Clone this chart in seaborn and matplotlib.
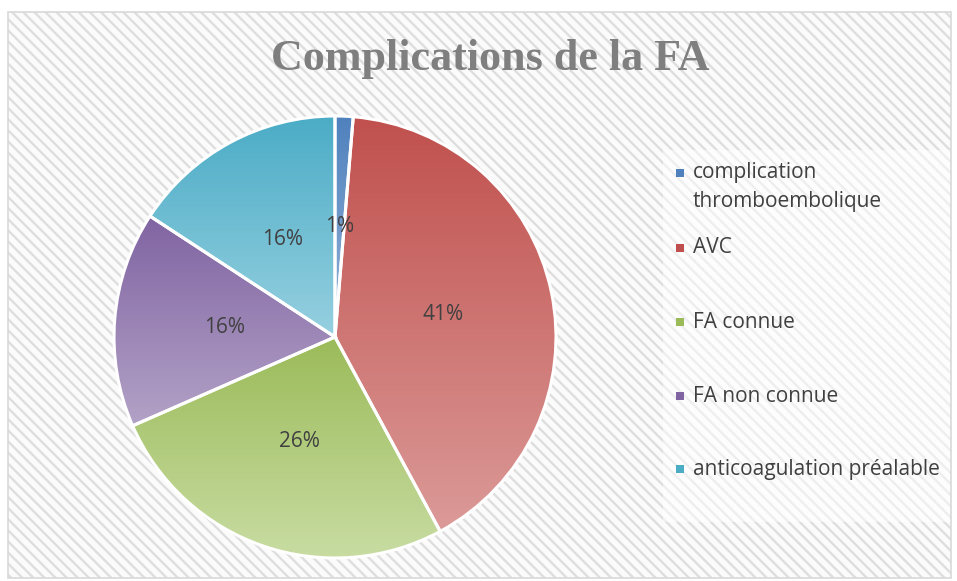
import numpy as np
import matplotlib
matplotlib.use("Agg")
import matplotlib.pyplot as plt
import seaborn as sns
from matplotlib.patches import Rectangle
from matplotlib.colors import to_rgb

# data (counts giving 1/41/26/16/16 %)
categories = ["complication\nthromboembolique", "AVC", "FA connue",
              "FA non connue", "anticoagulation préalable"]
counts = [1, 31, 20, 12, 12]

# gradient colours, top -> bottom of each slice
top_colors = ["#4F81BD", "#C0504D", "#9BBB59", "#8064A2", "#4BACC6"]
bottom_colors = ["#95B3D7", "#DB9A98", "#C8DCA2", "#B3A2C7", "#96D0E0"]

sns.set_theme(style="white")
plt.rcParams["font.family"] = ["Open Sans", "DejaVu Sans"]
plt.rcParams["hatch.linewidth"] = 1.7

W, H = 957, 581
fig = plt.figure(figsize=(W / 100, H / 100), dpi=100)
fig.patch.set_facecolor("white")

# hatched chart background + border
bg = Rectangle((8 / W, 1 - 578 / H), (951 - 8) / W, (578 - 12) / H,
               transform=fig.transFigure, facecolor="#fbfbfb",
               edgecolor="#dedede", hatch="\\\\\\", linewidth=0, zorder=-3)
fig.patches.append(bg)
border = Rectangle((8 / W, 1 - 578 / H), (951 - 8) / W, (578 - 12) / H,
                   transform=fig.transFigure, facecolor="none",
                   edgecolor="#d9d9d9", linewidth=1.2, zorder=-2)
fig.patches.append(border)
# lighter legend panel
panel = Rectangle((663 / W, 1 - 522 / H), (950 - 663) / W, (522 - 150) / H,
                  transform=fig.transFigure, facecolor="white",
                  edgecolor="none", alpha=0.5, zorder=-1)
fig.patches.append(panel)

# pie axes: centre (335, 337) px, radius 221 px
cx, cy, r = 335, 337, 221
ax = fig.add_axes([(cx - r) / W, (H - cy - r) / H, 2 * r / W, 2 * r / H])
ax.set_zorder(2)
ax.patch.set_alpha(0)

wedges, texts, autotexts = ax.pie(
    counts, startangle=90, counterclock=False, radius=1,
    autopct="%1.0f%%", pctdistance=0.5,
    textprops=dict(fontsize=15, color="#404040"),
    wedgeprops=dict(edgecolor="white", linewidth=2.2))

for w, c0, c1 in zip(wedges, top_colors, bottom_colors):
    ext = w.get_path().get_extents()
    a, b = np.array(to_rgb(c0)), np.array(to_rgb(c1))
    t = np.linspace(0, 1, 256)[:, None, None]
    grad = a[None, None, :] * (1 - t) + b[None, None, :] * t
    im = ax.imshow(grad, extent=(ext.x0, ext.x1, ext.y0, ext.y1),
                   origin="upper", aspect="auto", zorder=1,
                   interpolation="bilinear")
    im.set_clip_path(w)
    w.set_facecolor("none")
    w.set_zorder(2)
for t_ in autotexts:
    t_.set_zorder(3)

ax.set_xlim(-1.0, 1.0)
ax.set_ylim(-1.0, 1.0)
ax.axis("off")

# title
fig.text(490 / W, 1 - 59 / H, "Complications de la FA",
         ha="center", va="center", fontsize=31.8, fontweight="bold",
         color="#7f7f7f", family=["Liberation Serif", "DejaVu Serif"])

# legend entries (text centres in px)
legend_y = [187, 248, 322, 396, 469]
for lab, col, y in zip(categories, top_colors, legend_y):
    nlines = lab.count("\n") + 1
    my = y - (nlines - 1) * 14.5
    fig.patches.append(Rectangle((676 / W, 1 - (my + 4) / H), 8 / W, 8 / H,
                                 transform=fig.transFigure, facecolor=col,
                                 edgecolor="none", zorder=3))
    fig.text(693 / W, 1 - y / H, lab, ha="left", va="center",
             fontsize=15, color="#404040", linespacing=1.45)

fig.savefig("out.png", dpi=100, facecolor="white")
